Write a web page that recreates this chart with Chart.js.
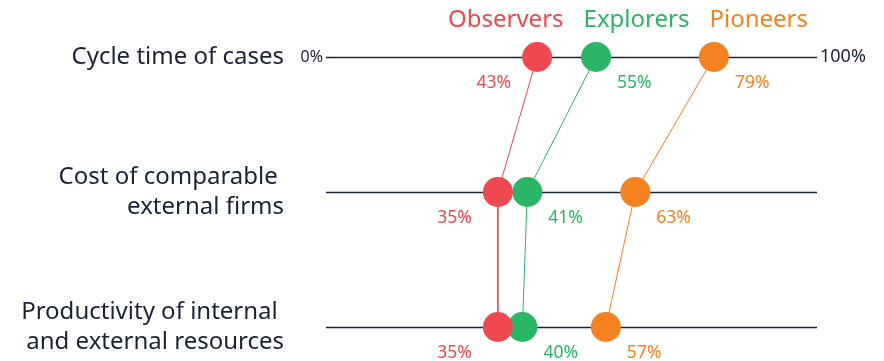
<!DOCTYPE html>
<html>
<head>
<meta charset="utf-8">
<script src="https://cdn.jsdelivr.net/npm/chart.js@4"></script>
<style>
  html, body { margin: 0; padding: 0; background: #fff; }
  canvas { display: block; }
</style>
</head>
<body>
<canvas id="chart" width="884" height="361"></canvas>
<script>
// data
const categories = [
    ['Cycle time of cases'],
    ['Cost of comparable ', 'external firms'],
    ['Productivity of internal ', 'and external resources']
];
const groups = ['Observers', 'Explorers', 'Pioneers'];
const observers = [43, 35, 35];
const explorers = [55, 41, 40];
const pioneers = [79, 63, 57];
const axisLabels = ['0%', '100%'];

const colors = ['#ef4850', '#2bb566', '#f58220'];
const ink = '#1b2335';
const FONT = '"Noto Sans", sans-serif';

const seriesValues = [observers, explorers, pioneers];

const datasets = groups.map((name, i) => ({
    label: name,
    data: seriesValues[i].map((v, row) => ({ x: v, y: row })),
    showLine: true,
    borderColor: colors[i],
    borderWidth: 1,
    backgroundColor: colors[i],
    pointBackgroundColor: colors[i],
    pointBorderWidth: 0,
    pointRadius: 15,
    pointHoverRadius: 15,
    clip: false
}));

const labelsPlugin = {
    id: 'labels',
    beforeDatasetsDraw(chart) {
        const ctx = chart.ctx;
        const xs = chart.scales.x;
        const ys = chart.scales.y;
        ctx.save();
        ctx.strokeStyle = ink;
        ctx.lineWidth = 1.3;
        categories.forEach((c, row) => {
            const y = Math.round(ys.getPixelForValue(row)) + 0.5;
            ctx.beginPath();
            ctx.moveTo(xs.getPixelForValue(0), y);
            ctx.lineTo(xs.getPixelForValue(100), y);
            ctx.stroke();
        });
        ctx.restore();
    },
    afterDatasetsDraw(chart) {
        const ctx = chart.ctx;
        const xs = chart.scales.x;
        const ys = chart.scales.y;
        ctx.save();
        ctx.textBaseline = 'middle';

        // category labels
        ctx.fillStyle = ink;
        ctx.font = '24px ' + FONT;
        ctx.textAlign = 'right';
        categories.forEach((lines, row) => {
            const y = ys.getPixelForValue(row);
            const lh = 30;
            const top = y - (lines.length - 1) * lh / 2;
            lines.forEach((t, k) => ctx.fillText(t, 284, top + k * lh));
        });

        // 0% / 100%
        const y0 = ys.getPixelForValue(0);
        ctx.font = '16px ' + FONT;
        ctx.textAlign = 'right';
        ctx.fillText(axisLabels[0], xs.getPixelForValue(0) - 3, y0);
        ctx.font = '18px ' + FONT;
        ctx.textAlign = 'left';
        ctx.fillText(axisLabels[1], xs.getPixelForValue(100) + 3, y0);

        // series names
        ctx.font = '24px ' + FONT;
        ctx.textAlign = 'left';
        const gap = 20;
        const widths = groups.map(g => ctx.measureText(g).width);
        let x = 808 - widths.reduce((a, b) => a + b, 0) - gap * (groups.length - 1);
        groups.forEach((g, i) => {
            ctx.fillStyle = colors[i];
            ctx.fillText(g, x, 20);
            x += widths[i] + gap;
        });

        // value labels
        ctx.font = '17.5px ' + FONT;
        seriesValues.forEach((vals, i) => {
            ctx.fillStyle = colors[i];
            vals.forEach((v, row) => {
                const px = xs.getPixelForValue(v);
                const py = ys.getPixelForValue(row) + 26;
                if (i === 0) {
                    ctx.textAlign = 'right';
                    ctx.fillText(v + '%', px - 26, py);
                } else {
                    ctx.textAlign = 'left';
                    ctx.fillText(v + '%', px + 21, py);
                }
            });
        });
        ctx.restore();
    }
};

new Chart(document.getElementById('chart'), {
    type: 'scatter',
    data: { datasets },
    options: {
        responsive: false,
        animation: false,
        layout: { padding: { left: 326, right: 884 - 817, top: 57, bottom: 361 - 327 } },
        plugins: {
            legend: { display: false },
            tooltip: { enabled: false }
        },
        scales: {
            x: { min: 0, max: 100, display: false },
            y: { min: 0, max: 2, reverse: true, display: false }
        }
    },
    plugins: [labelsPlugin]
});
</script>
</body>
</html>
